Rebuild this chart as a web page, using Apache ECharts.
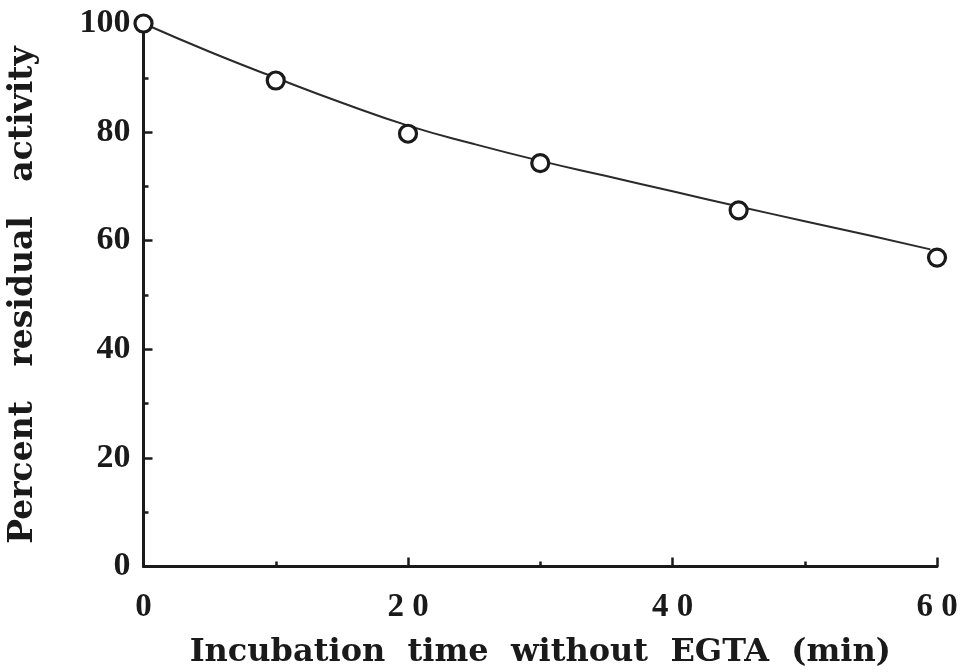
<!DOCTYPE html>
<html>
<head>
<meta charset="utf-8">
<script src="https://cdn.jsdelivr.net/npm/echarts@6/dist/echarts.min.js"></script>
<style>
  html, body { margin: 0; padding: 0; background: #fff; }
  #chart { width: 963px; height: 672px; }
</style>
</head>
<body>
<div id="chart"></div>
<script>
// Measured residual activity (%) after incubation without EGTA
const timeMin = [0, 10, 20, 30, 45, 60];
const residualActivity = [100, 89.5, 79.7, 74.3, 65.6, 56.9];

// Fitted decay curve drawn through the measurements
const fitTime = [0, 5, 10, 15, 20, 25, 30, 35, 40, 45, 50, 55, 59.5];
const fitActivity = [100, 94.8, 90.0, 85.4, 81.2, 77.8, 74.7, 71.9, 69.1, 66.3, 63.6, 60.9, 58.4];

// Axis tick labels (x labels are set with spaced digits)
const xTickLabels = { 0: '0', 20: '2 0', 40: '4 0', 60: '6 0' };
const yTickLabels = { 0: '0', 20: '20', 40: '40', 60: '60', 80: '80', 100: '100' };

const ink = '#1a1a1a';
const serif = '"Liberation Serif", "DejaVu Serif", serif';
const titleFont = '"DejaVu Serif", "Liberation Serif", serif';

const chart = echarts.init(document.getElementById('chart'), null, { renderer: 'canvas' });

chart.setOption({
  backgroundColor: '#fff',
  animation: false,
  grid: {
    left: 143.5, right: 26, top: 23.5, bottom: 105.5,
    containLabel: false, outerBoundsMode: 'none'
  },
  xAxis: {
    type: 'value',
    min: 0, max: 60, interval: 20,
    axisLine: { show: true, lineStyle: { color: ink, width: 3 } },
    axisTick: { show: true, inside: true, length: 9, lineStyle: { color: ink, width: 2.5 } },
    minorTick: { show: true, splitNumber: 2, length: 5, lineStyle: { color: ink, width: 2.5 } },
    splitLine: { show: false },
    axisLabel: {
      color: ink, fontFamily: serif, fontWeight: 'bold', fontSize: 33, margin: 24,
      formatter: v => xTickLabels[v] !== undefined ? xTickLabels[v] : ''
    },
    name: 'Incubation  time  without  EGTA  (min)',
    nameLocation: 'middle',
    nameGap: 70,
    nameTextStyle: { color: ink, fontFamily: titleFont, fontWeight: 'bold', fontSize: 32 }
  },
  yAxis: {
    type: 'value',
    min: 0, max: 100, interval: 20,
    axisLine: { show: true, lineStyle: { color: ink, width: 3 } },
    axisTick: { show: true, inside: true, length: 9, lineStyle: { color: ink, width: 2.5 } },
    minorTick: { show: true, splitNumber: 2, length: 5, lineStyle: { color: ink, width: 2.5 } },
    splitLine: { show: false },
    axisLabel: {
      color: ink, fontFamily: serif, fontWeight: 'bold', fontSize: 34, margin: 13,
      formatter: v => yTickLabels[v] !== undefined ? yTickLabels[v] : ''
    },
    name: 'Percent   residual   activity',
    nameLocation: 'middle',
    nameGap: 104,
    nameTextStyle: { color: ink, fontFamily: titleFont, fontWeight: 'bold', fontSize: 33 }
  },
  series: [
    {
      type: 'line',
      data: fitTime.map((t, i) => [t, fitActivity[i]]),
      smooth: true,
      showSymbol: false,
      clip: false,
      lineStyle: { color: '#2a2a2a', width: 2 },
      z: 2
    },
    {
      type: 'scatter',
      data: timeMin.map((t, i) => [t, residualActivity[i]]),
      symbol: 'circle',
      symbolSize: 17,
      clip: false,
      itemStyle: { color: '#fff', borderColor: ink, borderWidth: 3.2, opacity: 1 },
      z: 5
    }
  ]
});
</script>
</body>
</html>
